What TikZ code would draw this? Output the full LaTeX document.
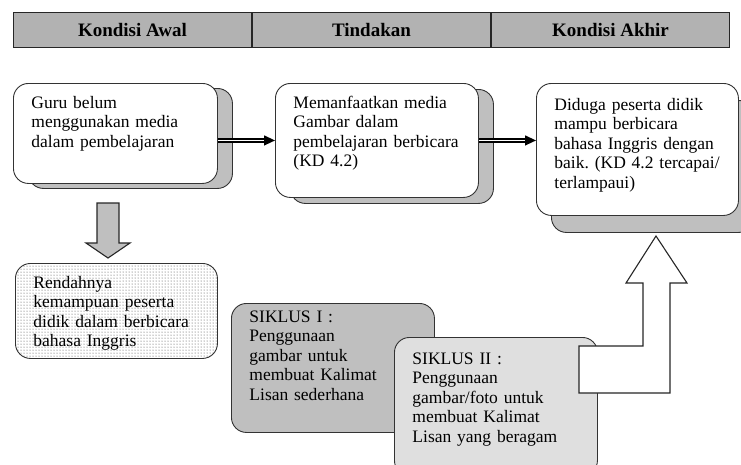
\documentclass[tikz,border=0pt]{standalone}
\usepackage{fontspec}
\setmainfont{Liberation Serif}
\usetikzlibrary{positioning,arrows.meta,shadows,patterns}
\tikzset{
kepala/.style={draw=black!85, line width=1pt, fill=gray!60, minimum width=238pt, minimum height=35pt, inner sep=0pt, font=\fontsize{19}{22}\selectfont\bfseries},
kotak/.style={draw=black!80, line width=.9pt, rounded corners=15pt, fill=white, align=left, anchor=north west, inner xsep=18pt, inner ysep=6pt, font=\fontsize{17.5}{19.5}\selectfont\frenchspacing},
bayang/.style={copy shadow={shadow xshift=15pt, shadow yshift=-#1pt, fill=gray!50, draw=black!80, line width=.9pt, rounded corners=15pt}},
panah/.style={double, line width=1.3pt, double distance=1.8pt, -{Triangle[length=11pt,width=10pt]}},
blok/.style={draw=black!85, line width=1.1pt}
}
\begin{document}
\begin{tikzpicture}[x=1pt,y=-1pt]
\clip (0,0) rectangle (741,464);
\node[kepala, anchor=north west] (awal) at (13,12) {Kondisi Awal};
\node[kepala, right=0pt of awal] (tindakan) {Tindakan};
\node[kepala, right=0pt of tindakan] (akhirjudul) {Kondisi Akhir};
\node[kotak, bayang=5, text width=168pt, text height=19pt, text depth=69pt] (guru) at (13,83)
{Guru belum\\menggunakan media\\dalam pembelajaran};
\node[kotak, bayang=6, text width=167pt, text height=19pt, text depth=83pt] (media) at (275,83)
{Memanfaatkan media\\Gambar dalam\\pembelajaran berbicara\\(KD 4.2)};
\node[kotak, bayang=17, text width=166pt, text height=21pt, text depth=99pt] (akhir) at (536,83)
{Diduga peserta didik\\mampu berbicara\\\mbox{bahasa Inggris dengan}\\\mbox{baik. (KD 4.2 tercapai/}\\terlampaui)};
\draw[panah] (guru.east |- media.west) -- (media.west);
\draw[panah] (media.east) -- (media.east -| akhir.west);
\draw[blok, fill=gray!50] (97,203) -- (119,203) -- (119,243) -- (130,243) -- (108,258) -- (86,243) -- (97,243) -- cycle;
\node[kotak, preaction={fill=white}, pattern=dots, pattern color=black!75, text width=166pt, text height=19pt, text depth=64pt] (rendah) at (15,263)
{Rendahnya\\kemampuan peserta\\didik dalam berbicara\\bahasa Inggris};
\node[kotak, fill=gray!50, text width=167pt, text height=13pt, text depth=104pt] (siklus1) at (231,303)
{SIKLUS I :\\Penggunaan\\gambar untuk\\membuat Kalimat\\Lisan sederhana};
\node[kotak, fill=gray!25, text width=167pt, text height=21pt, text depth=105pt] (siklus2) at (394,337)
{SIKLUS II :\\Penggunaan\\gambar/foto untuk\\membuat Kalimat\\Lisan yang beragam};
\draw[blok, fill=white] (579,346) -- (643,346) -- (643,283) -- (626,283) -- (656,236) -- (687,283) -- (670,283) -- (670,393) -- (579,393) -- cycle;
\end{tikzpicture}
\end{document}
